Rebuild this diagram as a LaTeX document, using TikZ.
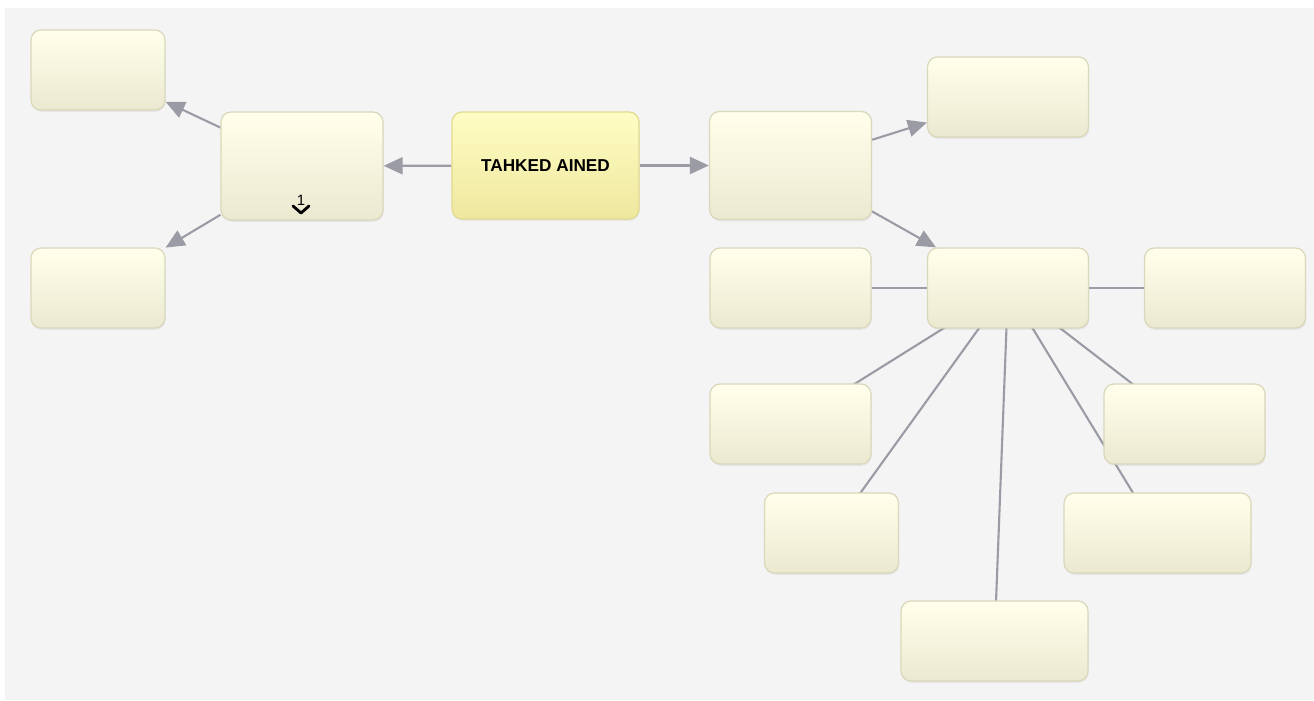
\documentclass[tikz,border=0pt]{standalone}
\usepackage{fontspec}
\setmainfont{Liberation Sans}
\usetikzlibrary{arrows.meta,shadows,positioning}
\definecolor{boxtop}{HTML}{FFFFEB}
\definecolor{boxbot}{HTML}{EBE9D0}
\definecolor{boxline}{HTML}{DAD8BA}
\definecolor{maintop}{HTML}{FFFDC4}
\definecolor{mainbot}{HTML}{EEE79E}
\definecolor{mainline}{HTML}{E2DA8E}
\definecolor{linkgray}{HTML}{9B9BA5}
\definecolor{canvas}{HTML}{F4F4F5}
\pgfdeclarelayer{back}
\pgfdeclarelayer{edges}
\pgfsetlayers{back,edges,main}

\begin{document}
\begin{tikzpicture}[x=0.02cm, y=-0.02cm,
    box/.style={draw=boxline, line width=0.7pt, rounded corners=0.2cm,
      top color=boxtop, middle color=boxtop, bottom color=boxbot,
      minimum width=3.22cm, minimum height=1.6cm, inner sep=0pt,
      drop shadow={opacity=0.12, shadow xshift=0.4pt, shadow yshift=-1pt}},
    smallbox/.style={box, minimum width=2.68cm},
    widebox/.style={box, minimum width=3.74cm},
    tallbox/.style={box, minimum width=3.24cm, minimum height=2.16cm},
    mainbox/.style={box, draw=mainline, top color=maintop, middle color=maintop,
      bottom color=mainbot, minimum width=3.74cm, minimum height=2.14cm,
      font=\fontsize{9.8}{11}\selectfont\bfseries},
    arr/.style={draw=linkgray, line width=1.2pt,
      -{Triangle[length=0.38cm, width=0.34cm]}},
    link/.style={draw=linkgray, line width=1.2pt}]

    % canvas
    \useasboundingbox (0,0) rectangle (1314,700);
    \begin{pgfonlayer}{back}
      \fill[white] (0,0) rectangle (1314,700);
      \fill[canvas] (5,8) rectangle (1314,700);
    \end{pgfonlayer}

    % centre and left branch
    \node[mainbox] (core) at (545.5,165.5) {TAHKED AINED};
    \node[tallbox] (west) at (302,166) {};
    \node[smallbox] (westup) at (98,70) {};
    \node[smallbox] (westdown) at (98,288) {};
    \node[font=\fontsize{8.5}{9}\selectfont, inner sep=0pt] (count) at (301,200) {1};
    \draw[line width=1.6pt, line cap=round, line join=round] (293,206) -- (301,213) -- (309,206);

    % right branch
    \node[tallbox] (east) at (790.5,165.5) {};
    \node[box] (eastup) at (1008,97) {};
    \node[box] (hub) at (1008,288) {};
    \node[box] (hubleft) at (790.5,288) {};
    \node[box] (hubright) at (1225,288) {};
    \node[box] (rowleft) at (790.5,424) {};
    \node[box] (rowright) at (1184.5,424) {};
    \node[smallbox] (lowleft) at (831.5,533) {};
    \node[widebox] (lowright) at (1157.5,533) {};
    \node[widebox] (bottom) at (994.5,641) {};

    \begin{pgfonlayer}{edges}
      \draw[arr] (core) -- (west);
      \draw[arr] (core) -- (east);
      \draw[arr] (west) -- (westup);
      \draw[arr] (west) -- (westdown);
      \draw[arr] (east) -- (eastup);
      \draw[arr] (east) -- (hub);
      \draw[link] (hub) -- (hubleft);
      \draw[link] (hub) -- (hubright);
      \draw[link] (hub.center) -- (rowleft.center);
      \draw[link] (hub.center) -- (rowright.center);
      \draw[link] (hub.center) -- (lowleft.center);
      \draw[link] (hub.center) -- (lowright.center);
      \draw[link] (hub.center) -- (bottom.center);
    \end{pgfonlayer}
  \end{tikzpicture}
\end{document}
